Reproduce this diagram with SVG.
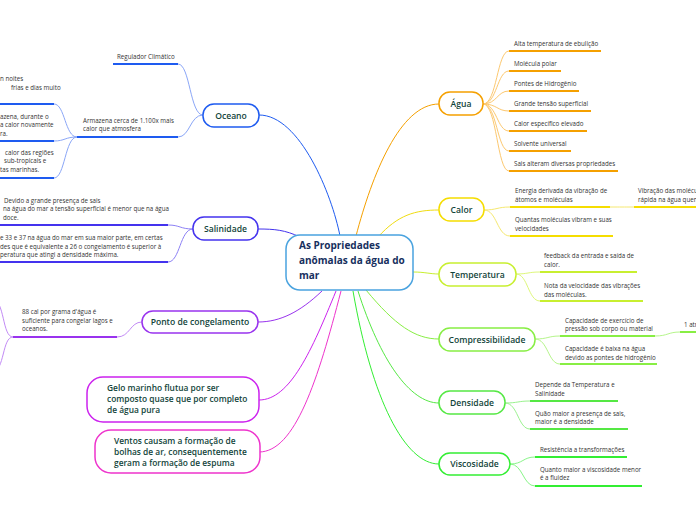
<svg xmlns="http://www.w3.org/2000/svg" width="696" height="520" viewBox="0 0 696 520">
<style>
.t{font-family:"Open Sans","Noto Sans","DejaVu Sans",sans-serif;font-size:6.2px;fill:#333;}
.n{font-family:"Open Sans","Noto Sans","DejaVu Sans",sans-serif;font-size:8.6px;font-weight:600;fill:#12443a;text-anchor:middle;}
.g{font-family:"Open Sans","Noto Sans","DejaVu Sans",sans-serif;font-size:8.4px;font-weight:600;fill:#12443a;}
.c{font-family:"Open Sans","Noto Sans","DejaVu Sans",sans-serif;font-size:10px;font-weight:700;fill:#17305e;}
.box{fill:#fff;stroke-width:1.5;}
.u{fill:none;stroke-width:2;}
.l{fill:none;stroke-width:1;}
</style>
<rect width="696" height="520" fill="#fff"/>
<g id="connectors">
<!-- center to nodes -->
<path class="l" stroke="#1e5bf0" stroke-width="1.5" d="M340,236 C332,195 300,115 259,115"/>
<path class="l" stroke="#f5a000" stroke-width="1.5" d="M356,236 C372,175 400,104 439,104"/>
<path class="l" stroke="#f0dc10" stroke-width="1.5" d="M378,237 C398,215 415,210 439,210"/>
<path class="l" stroke="#c8ef30" stroke-width="1.5" d="M413,272 C425,272 430,274 439,274"/>
<path class="l" stroke="#88ee44" stroke-width="1.5" d="M366,290 C395,325 415,339 439,339"/>
<path class="l" stroke="#55e844" stroke-width="1.5" d="M358,291 C380,360 410,403 439,403"/>
<path class="l" stroke="#33ee33" stroke-width="1.5" d="M353,291 C372,400 405,464 439,464"/>
<path class="l" stroke="#4433ee" stroke-width="1.5" d="M300,237 C285,230 275,229 258,229"/>
<path class="l" stroke="#9933ee" stroke-width="1.5" d="M322,291 C300,312 280,322 258,322"/>
<path class="l" stroke="#cc22ee" stroke-width="1.5" d="M336,291 C312,350 290,400 259,400"/>
<path class="l" stroke="#ee33cc" stroke-width="1.5" d="M341,291 C318,380 295,452 259,452"/>
<!-- Agua branches -->
<g stroke="#fcc870">
<path class="l" d="M483,104 C497,104 497,51 509,51"/>
<path class="l" d="M483,104 C497,104 497,71 509,71"/>
<path class="l" d="M483,104 C497,104 497,91 509,91"/>
<path class="l" d="M483,104 C497,104 497,111 509,111"/>
<path class="l" d="M483,104 C497,104 497,131 509,131"/>
<path class="l" d="M483,104 C497,104 497,151 509,151"/>
<path class="l" d="M483,104 C497,104 497,171 509,171"/>
</g>
<g stroke="#f5a000">
<path class="u" d="M509,51 H601"/>
<path class="u" d="M509,71 H561"/>
<path class="u" d="M509,91 H579"/>
<path class="u" d="M509,111 H591"/>
<path class="u" d="M509,131 H587"/>
<path class="u" d="M509,151 H571"/>
<path class="u" d="M509,171 H618"/>
</g>
<!-- Calor -->
<path class="l" stroke="#f5e870" d="M484,210 C497,210 497,207 510,207"/>
<path class="l" stroke="#f5e870" d="M484,210 C497,210 497,236 510,236"/>
<path class="l" stroke="#f5e870" d="M610,207 C622,207 622,207 634,207"/>
<path class="u" stroke="#f5dd00" d="M510,207 H610"/>
<path class="u" stroke="#f5dd00" d="M510,236 H613"/>
<path class="u" stroke="#f5dd00" d="M634,207 H700"/>
<!-- Temperatura -->
<path class="l" stroke="#def77a" d="M516,274 C528,274 528,272 540,272"/>
<path class="l" stroke="#def77a" d="M516,274 C528,274 528,301 540,301"/>
<path class="u" stroke="#c8ef30" d="M540,272 H637"/>
<path class="u" stroke="#c8ef30" d="M540,301 H643"/>
<!-- Compressibilidade -->
<path class="l" stroke="#b5f58a" d="M535,339 C548,339 548,336 560,336"/>
<path class="l" stroke="#b5f58a" d="M535,339 C548,339 548,364 560,364"/>
<path class="l" stroke="#b5f58a" d="M655,336 C668,336 668,332 680,332"/>
<path class="u" stroke="#88ee44" d="M560,336 H655"/>
<path class="u" stroke="#88ee44" d="M560,364 H657"/>
<path class="u" stroke="#88ee44" d="M680,332 H700"/>
<!-- Densidade -->
<path class="l" stroke="#9af28e" d="M505,403 C518,403 518,401 530,401"/>
<path class="l" stroke="#9af28e" d="M505,403 C518,403 518,429 530,429"/>
<path class="u" stroke="#55e844" d="M530,401 H618"/>
<path class="u" stroke="#55e844" d="M530,429 H628"/>
<!-- Viscosidade -->
<path class="l" stroke="#88f588" d="M510,464 C523,464 523,457 535,457"/>
<path class="l" stroke="#88f588" d="M510,464 C523,464 523,486 535,486"/>
<path class="u" stroke="#33ee33" d="M535,457 H627"/>
<path class="u" stroke="#33ee33" d="M535,486 H642"/>
<!-- Oceano -->
<g stroke="#8aa6f7">
<path class="l" d="M203,115 C190,115 190,64 178,64"/>
<path class="l" d="M203,115 C190,115 190,137 178,137"/>
<path class="l" d="M77,137 C65,137 65,104 54,104"/>
<path class="l" d="M77,137 C65,137 65,141 54,141"/>
<path class="l" d="M77,137 C65,137 65,178 54,178"/>
</g>
<g stroke="#1e5bf0">
<path class="u" d="M113,64 H178"/>
<path class="u" d="M77,137 H178"/>
<path class="u" d="M-5,104 H54"/>
<path class="u" d="M-5,141 H54"/>
<path class="u" d="M-5,178 H54"/>
</g>
<!-- Salinidade -->
<path class="l" stroke="#8c80f5" d="M193,229 C180,229 180,225 168,225"/>
<path class="l" stroke="#8c80f5" d="M193,229 C180,229 180,262 168,262"/>
<path class="u" stroke="#4433ee" d="M-5,225 H168"/>
<path class="u" stroke="#4433ee" d="M-5,262 H168"/>
<!-- Ponto -->
<path class="l" stroke="#c28af5" d="M142,322 C130,322 130,337 117,337"/>
<path class="l" stroke="#c28af5" d="M13,337 C2,337 5,300 -8,298"/>
<path class="l" stroke="#c28af5" d="M13,337 C2,337 5,370 -8,374"/>
<path class="u" stroke="#9933ee" d="M13,337 H117"/>
</g>
<g id="center">
<rect class="box" x="286" y="235" width="127" height="55" rx="14" stroke="#4aa3df"/>
<text class="c" x="299" y="249">As Propriedades</text>
<text class="c" x="299" y="264">anômalas da água do</text>
<text class="c" x="299" y="279">mar</text>
</g>
<g id="agua">
<rect class="box" x="439" y="92" width="44" height="23" rx="11" stroke="#f5a000"/>
<text class="n" x="461" y="107">Água</text>
<text class="t" x="514" y="46">Alta temperatura de ebulição</text>
<text class="t" x="514" y="66">Molécula polar</text>
<text class="t" x="514" y="86">Pontes de Hidrogênio</text>
<text class="t" x="514" y="106">Grande tensão superficial</text>
<text class="t" x="514" y="126">Calor específico elevado</text>
<text class="t" x="514" y="146">Solvente universal</text>
<text class="t" x="514" y="166">Sais alteram diversas propriedades</text>
</g>
<g id="calor">
<rect class="box" x="439" y="198" width="45" height="23" rx="11" stroke="#f5dd00"/>
<text class="n" x="461.5" y="213">Calor</text>
<text class="t" x="515" y="193">Energia derivada da vibração de</text>
<text class="t" x="515" y="202">átomos e moléculas</text>
<text class="t" x="638" y="193">Vibração das moléculas</text>
<text class="t" x="638" y="202">rápida na água quente</text>
<text class="t" x="515" y="222">Quantas moléculas vibram e suas</text>
<text class="t" x="515" y="231">velocidades</text>
</g>
<g id="temperatura">
<rect class="box" x="439" y="263" width="77" height="23" rx="11" stroke="#c8ef30"/>
<text class="n" x="477.5" y="278">Temperatura</text>
<text class="t" x="544" y="258">feedback da entrada e saída de</text>
<text class="t" x="544" y="267">calor.</text>
<text class="t" x="544" y="288">Nota da velocidade das vibrações</text>
<text class="t" x="544" y="297">das moléculas.</text>
</g>
<g id="compressibilidade">
<rect class="box" x="439" y="328" width="96" height="23" rx="11" stroke="#88ee44"/>
<text class="n" x="487" y="343">Compressibilidade</text>
<text class="t" x="565" y="323">Capacidade de exercício de</text>
<text class="t" x="565" y="331">pressão sob corpo ou material</text>
<text class="t" x="684" y="327">1 atm</text>
<text class="t" x="565" y="351">Capacidade é baixa na água</text>
<text class="t" x="565" y="360">devido as pontes de hidrogênio</text>
</g>
<g id="densidade">
<rect class="box" x="439" y="391" width="66" height="23" rx="11" stroke="#55e844"/>
<text class="n" x="472" y="406">Densidade</text>
<text class="t" x="535" y="387">Depende da Temperatura e</text>
<text class="t" x="535" y="396">Salinidade</text>
<text class="t" x="535" y="416">Quão maior a presença de sais,</text>
<text class="t" x="535" y="424">maior é a densidade</text>
</g>
<g id="viscosidade">
<rect class="box" x="439" y="453" width="71" height="22" rx="11" stroke="#33ee33"/>
<text class="n" x="474.5" y="467">Viscosidade</text>
<text class="t" x="540" y="452">Resistência a transformações</text>
<text class="t" x="540" y="472">Quanto maior a viscosidade menor</text>
<text class="t" x="540" y="480">é a fluidez</text>
</g>
<g id="oceano">
<rect class="box" x="203" y="104" width="56" height="23" rx="11" stroke="#1e5bf0"/>
<text class="n" x="231" y="119">Oceano</text>
<text class="t" x="117" y="59">Regulador Climático</text>
<text class="t" x="83" y="123">Armazena cerca de 1.100x mais</text>
<text class="t" x="83" y="131">calor que atmosfera</text>
<text class="t" x="0" y="81">n noites</text>
<text class="t" x="11" y="90">frias e dias muito</text>
<text class="t" x="0" y="119">azena, durante o</text>
<text class="t" x="0" y="127">a calor novamente</text>
<text class="t" x="0" y="136">ra.</text>
<text class="t" x="5" y="155">calor das regiões</text>
<text class="t" x="4" y="163">sub-tropicais e</text>
<text class="t" x="0" y="172">tas marinhas.</text>
</g>
<g id="salinidade">
<rect class="box" x="193" y="217" width="65" height="23" rx="11" stroke="#4433ee"/>
<text class="n" x="225.5" y="232">Salinidade</text>
<text class="t" x="4" y="203">Devido a grande presença de sais</text>
<text class="t" x="3" y="211">na água do mar a tensão superficial é menor que na água</text>
<text class="t" x="3" y="220">doce.</text>
<text class="t" x="0" y="240">e 33 e 37 na água do mar em sua maior parte, em certas</text>
<text class="t" x="0" y="249">des que é equivalente a 26 o congelamento é superior à</text>
<text class="t" x="0" y="257">peratura que atingi a densidade máxima.</text>
</g>
<g id="ponto">
<rect class="box" x="142" y="311" width="116" height="22" rx="11" stroke="#9933ee"/>
<text class="n" x="200" y="325">Ponto de congelamento</text>
<text class="t" x="22" y="314">88 cal por grama d'água é</text>
<text class="t" x="22" y="323">suficiente para congelar lagos e</text>
<text class="t" x="22" y="331">oceanos.</text>
</g>
<g id="gelo">
<rect class="box" x="87" y="377" width="172" height="45" rx="16" stroke="#cc22ee"/>
<text class="g" x="107" y="391">Gelo marinho flutua por ser</text>
<text class="g" x="107" y="402">composto quase que por completo</text>
<text class="g" x="107" y="413">de água pura</text>
</g>
<g id="ventos">
<rect class="box" x="95" y="430" width="165" height="43" rx="16" stroke="#ee33cc"/>
<text class="g" x="114" y="444">Ventos causam a formação de</text>
<text class="g" x="114" y="455">bolhas de ar, consequentemente</text>
<text class="g" x="114" y="466">geram a formação de espuma</text>
</g>
</svg>
